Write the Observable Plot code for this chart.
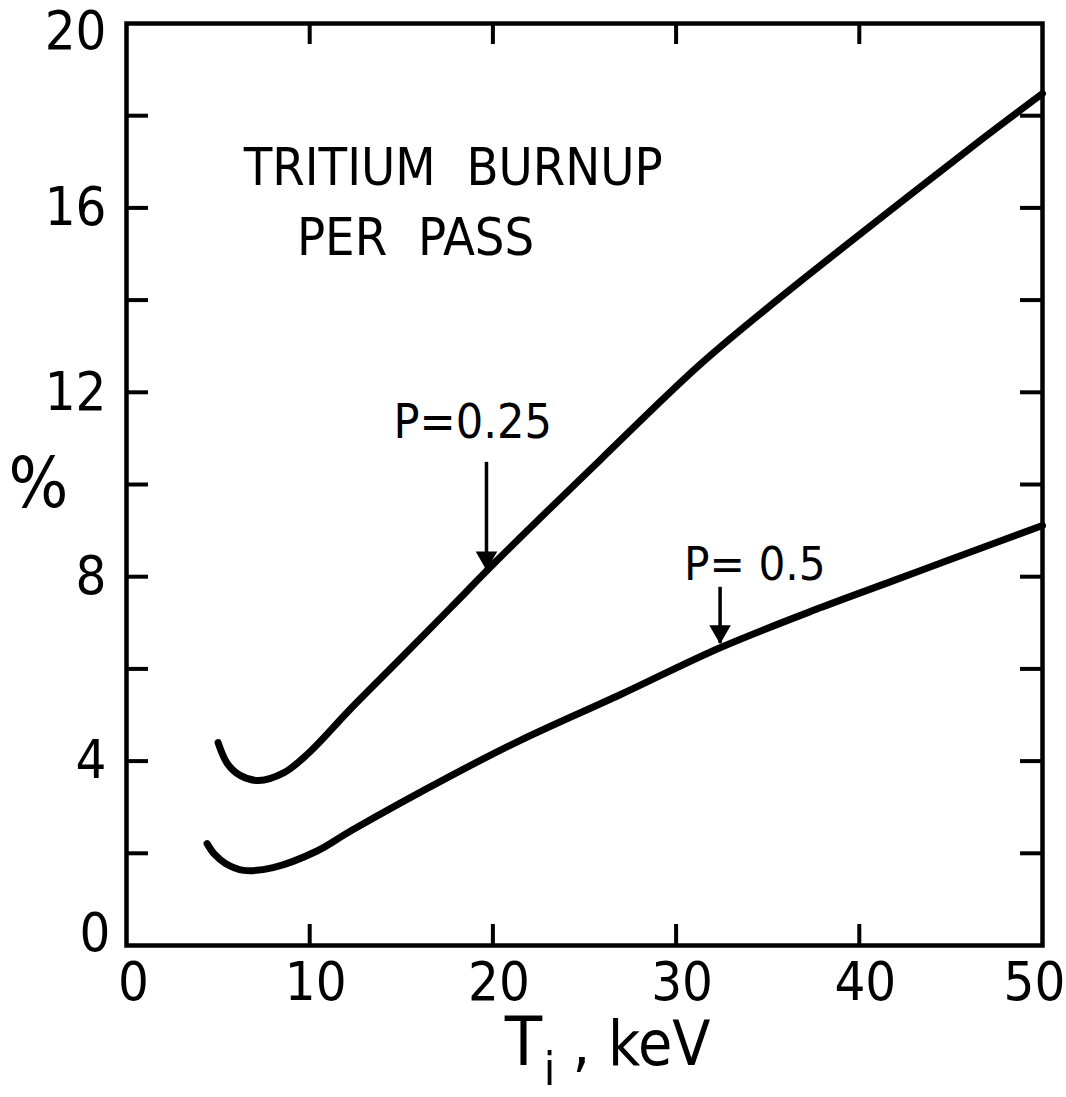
<!DOCTYPE html>
<html>
<head>
<meta charset="utf-8">
<script src="https://cdn.jsdelivr.net/npm/d3@7"></script>
<script src="https://cdn.jsdelivr.net/npm/@observablehq/plot@0.6"></script>
<style>
  html, body { margin: 0; padding: 0; background: #fff; }
  #chart { width: 1066px; height: 1097px; }
  .title-text text { word-spacing: 16px; }
</style>
</head>
<body>
<div id="chart"></div>
<script>
// Tritium burnup per pass (%) versus ion temperature Ti (keV)
const tiUpper = [5.0, 5.5, 6.2, 7.2, 8.6, 9.9, 12.2, 15.0, 17.7, 20.4, 25.9, 31.3, 35.7, 41.2, 46.6, 50.0];
const burnUpper = [4.40, 3.95, 3.69, 3.58, 3.75, 4.16, 5.12, 6.24, 7.33, 8.42, 10.55, 12.60, 14.06, 15.79, 17.46, 18.48]; // P = 0.25

const tiLower = [4.4, 4.8, 5.4, 6.4, 8.0, 10.4, 12.3, 17.7, 21.5, 27.0, 32.4, 37.9, 41.9, 45.0, 50.0];
const burnLower = [2.21, 1.98, 1.78, 1.63, 1.69, 2.05, 2.50, 3.68, 4.45, 5.45, 6.46, 7.33, 7.92, 8.38, 9.11]; // P = 0.5

const xLabelTicks = [0, 10, 20, 30, 40, 50];
const xInnerTicks = [10, 20, 30, 40];
const yLabelTicks = [0, 4, 8, 12, 16, 20];
const yInnerTicks = [2, 4, 6, 8, 10, 12, 14, 16, 18];

// curve labels and their pointer arrows
const curveLabels = [
  {text: "P=0.25", ti: 18.9, burn: 11.0},
  {text: "P= 0.5", ti: 34.3, burn: 7.92}
];
const pointers = [
  {ti: 19.65, from: 10.48, to: 8.15},
  {ti: 32.4, from: 7.77, to: 6.55}
];
const titleLines = [
  {text: "TRITIUM BURNUP", ti: 6.4, burn: 16.5},
  {text: "PER PASS", ti: 9.3, burn: 14.97}
];

const upper = tiUpper.map((t, i) => ({ti: t, burn: burnUpper[i]}));
const lower = tiLower.map((t, i) => ({ti: t, burn: burnLower[i]}));

const W = 1066, H = 1097, ML = 126, MR = 24, MT = 23, MB = 152;
const innerW = W - ML - MR, innerH = H - MT - MB;
const FONT = "'Liberation Sans Narrow', 'Arial Narrow', 'DejaVu Sans Condensed', 'Roboto Condensed', 'Liberation Sans', sans-serif";
const TICK_FONT = 54;

const chart = Plot.plot({
  width: W,
  height: H,
  marginLeft: ML,
  marginRight: MR,
  marginTop: MT,
  marginBottom: MB,
  style: {fontFamily: FONT, color: "#000", background: "#fff", overflow: "visible"},
  x: {domain: [0, 50]},
  y: {domain: [0, 20]},
  marks: [
    // inward ticks on all four sides
    Plot.tickY(yInnerTicks, {y: d => d, insetRight: innerW - 22, strokeWidth: 4}),
    Plot.tickY(yInnerTicks, {y: d => d, insetLeft: innerW - 22, strokeWidth: 4}),
    Plot.tickX(xInnerTicks, {x: d => d, insetTop: innerH - 21, strokeWidth: 4}),
    Plot.tickX(xInnerTicks, {x: d => d, insetBottom: innerH - 21, strokeWidth: 4}),
    Plot.frame({stroke: "#000", strokeWidth: 4.5}),
    // tick labels (end labels nudged inward)
    Plot.axisY({ticks: yLabelTicks.filter(v => v > 0 && v < 20), tickSize: 0, tickPadding: 20, fontSize: TICK_FONT, label: null}),
    Plot.axisY({ticks: yLabelTicks.filter(v => v === 20), tickSize: 0, tickPadding: 20, dy: 8, fontSize: TICK_FONT, label: null}),
    Plot.axisY({ticks: yLabelTicks.filter(v => v === 0), tickSize: 0, tickPadding: 16, dy: -12, fontSize: TICK_FONT, label: null}),
    Plot.axisX({ticks: xLabelTicks.filter(v => v > 0 && v < 50), tickSize: 0, tickPadding: 16, dx: 6, fontSize: TICK_FONT, label: null}),
    Plot.axisX({ticks: xLabelTicks.filter(v => v === 0), tickSize: 0, tickPadding: 16, dx: 7, fontSize: TICK_FONT, label: null}),
    Plot.axisX({ticks: xLabelTicks.filter(v => v === 50), tickSize: 0, tickPadding: 16, dx: -8, fontSize: TICK_FONT, label: null}),
    // curves
    Plot.line(upper, {x: "ti", y: "burn", curve: "catmull-rom", strokeWidth: 7, strokeLinecap: "round"}),
    Plot.line(lower, {x: "ti", y: "burn", curve: "catmull-rom", strokeWidth: 7, strokeLinecap: "round"}),
    // pointers: shaft plus filled head
    Plot.ruleX(pointers, {x: "ti", y1: "from", y2: "to", strokeWidth: 3.5}),
    Plot.dot(pointers, {x: "ti", y: "to", symbol: "triangle", rotate: 180, r: 8, fill: "#000", stroke: "none", dy: -12}),
    Plot.text(curveLabels.slice(0, 1), {x: "ti", y: "burn", text: "text", fontSize: 48, textAnchor: "middle", lineAnchor: "bottom"}),
    Plot.text(curveLabels.slice(1), {x: "ti", y: "burn", text: "text", fontSize: 47, textAnchor: "middle", lineAnchor: "bottom"}),
    // title inside the frame
    Plot.text(titleLines, {x: "ti", y: "burn", text: "text", fontSize: 52, textAnchor: "start", lineAnchor: "bottom", className: "title-text"}),
    // axis titles
    Plot.text(["%"], {frameAnchor: "left", dx: -88, fontSize: 70, textAnchor: "middle", lineAnchor: "middle"}),
    Plot.text(["T"], {frameAnchor: "bottom", dx: -61, dy: 119, fontSize: 68, textAnchor: "middle", lineAnchor: "bottom"}),
    Plot.text(["i"], {frameAnchor: "bottom", dx: -35, dy: 139, fontSize: 46, textAnchor: "middle", lineAnchor: "bottom"}),
    Plot.text([", keV"], {frameAnchor: "bottom", dx: -12, dy: 119, fontSize: 62, textAnchor: "start", lineAnchor: "bottom"})
  ]
});

document.getElementById("chart").appendChild(chart);
</script>
</body>
</html>
